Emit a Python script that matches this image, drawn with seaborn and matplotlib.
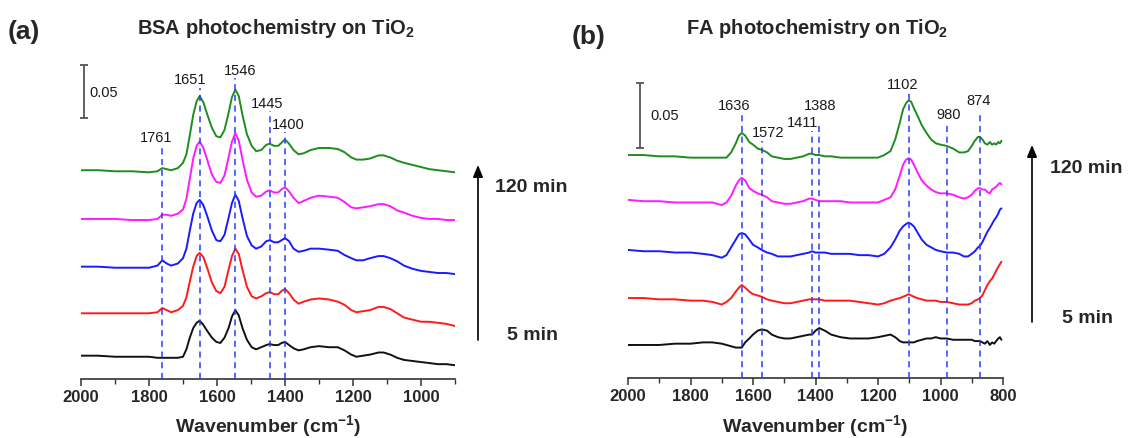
import numpy as np
import pandas as pd
import matplotlib
matplotlib.use("Agg")
import matplotlib.pyplot as plt
from matplotlib.ticker import MultipleLocator
import seaborn as sns

# ---------------- BSA on TiO2 (panel a) ----------------
wn_bsa = [2000, 1950, 1900, 1850, 1800, 1775, 1761, 1748, 1735, 1715,
          1700, 1690, 1680, 1670, 1660, 1651, 1640, 1628, 1615, 1602,
          1590, 1578, 1566, 1556, 1546, 1536, 1525, 1512, 1498, 1485,
          1470, 1455, 1445, 1432, 1420, 1410, 1400, 1388, 1375, 1360,
          1345, 1325, 1300, 1270, 1245, 1225, 1205, 1190, 1170, 1150,
          1125, 1110, 1090, 1070, 1050, 1025, 1000, 975, 950, 925, 900]

# absorbance change, mOD, relative to each trace's value at 2000 cm-1
bsa_scan1 = [0, 0, -1, -1, -1, -2, -2, -2, -2, -2,
             -1, 6, 17, 26, 31, 33, 29, 23, 17, 13,
             12, 17, 26, 37, 43, 38, 26, 15, 8, 6,
             8, 10, 11, 10, 10, 12, 13, 10, 7, 5,
             6, 8, 9, 8, 8, 5, 1, -1, 0, 1,
             3, 3, 1, -2, -4, -5, -6, -7, -8, -8, -9]
bsa_scan2 = [0, 0, 0, 0, 0, 1, 5, 3, 1, 3,
             7, 15, 30, 44, 54, 57, 53, 42, 29, 21,
             19, 25, 41, 54, 61, 56, 41, 25, 16, 14,
             16, 19, 20, 18, 18, 21, 23, 19, 13, 9,
             11, 13, 14, 13, 11, 8, 3, 1, 2, 3,
             6, 6, 4, 0, -4, -6, -8, -8, -9, -10, -12]
bsa_scan3 = [0, 0, -1, -1, -1, 1, 6, 3, 1, 3,
             8, 17, 34, 50, 60, 63, 58, 47, 34, 25,
             24, 30, 46, 60, 68, 62, 46, 29, 20, 17,
             19, 24, 25, 23, 23, 25, 27, 24, 17, 14,
             15, 17, 17, 16, 15, 11, 8, 6, 6, 8,
             10, 10, 8, 5, 1, -2, -4, -5, -6, -6, -7]
bsa_scan4 = [0, 0, 0, -1, -1, 0, 4, 4, 3, 5,
             9, 19, 38, 57, 69, 73, 67, 55, 42, 35,
             34, 41, 58, 73, 81, 74, 56, 37, 25, 21,
             22, 26, 27, 25, 25, 28, 30, 26, 20, 15,
             17, 20, 22, 21, 20, 16, 11, 10, 11, 12,
             14, 14, 12, 8, 6, 3, 1, 0, 0, -1, -1]
bsa_scan5 = [0, 0, -1, -1, -2, -1, 2, 1, 0, 2,
             7, 15, 33, 52, 65, 70, 64, 52, 40, 32,
             31, 38, 54, 69, 76, 70, 52, 34, 23, 18,
             19, 24, 25, 23, 23, 26, 29, 25, 19, 15,
             16, 19, 21, 21, 20, 17, 12, 10, 10, 11,
             14, 14, 12, 9, 7, 5, 3, 1, 0, -1, -2]

bsa_peaks = [1761, 1651, 1546, 1445, 1400]

# ---------------- FA on TiO2 (panel b) ----------------
wn_fa = [2000, 1950, 1900, 1850, 1800, 1760, 1730, 1700, 1685, 1670,
         1655, 1645, 1636, 1625, 1612, 1600, 1585, 1572, 1555, 1540,
         1520, 1500, 1480, 1460, 1440, 1420, 1411, 1400, 1388, 1370,
         1350, 1320, 1290, 1260, 1230, 1200, 1180, 1160, 1145, 1130,
         1120, 1110, 1102, 1094, 1085, 1075, 1060, 1045, 1030, 1015,
         1000, 980, 960, 940, 925, 912, 900, 890, 880, 874,
         866, 858, 850, 842, 835, 828, 822, 815, 810, 805]

fa_scan1 = [0, 0, 0, 1, 1, 2, 2, 1, 0, -1,
            -2, -2, -2, 2, 5, 8, 11, 12, 11, 8,
            6, 5, 5, 6, 7, 8, 8, 11, 13, 11,
            8, 6, 5, 5, 5, 6, 7, 8, 6, 3,
            2, 2, 2, 2, 2, 3, 4, 5, 5, 6,
            5, 5, 4, 4, 4, 4, 4, 3, 3, 3,
            2, 1, 3, 0, 2, 1, 3, 5, 6, 4]
fa_scan2 = [0, 0, -1, -1, -2, -2, -3, -5, -3, 0,
            5, 8, 10, 8, 5, 3, 2, 1, -1, -2,
            -3, -4, -4, -3, -2, -1, -1, -1, -1, -2,
            -2, -2, -2, -3, -4, -5, -4, -2, -1, 0,
            1, 2, 3, 2, 1, 0, -1, -2, -2, -2,
            -3, -3, -4, -5, -5, -5, -4, -2, -1, 0,
            2, 6, 10, 13, 15, 18, 21, 24, 26, 28]
fa_scan3 = [0, -1, -1, -2, -2, -3, -4, -6, -4, 2,
            8, 12, 13, 12, 8, 4, 2, 0, -2, -3,
            -5, -5, -5, -4, -3, -2, -1, -2, -2, -2,
            -3, -3, -3, -4, -4, -5, -3, 2, 8, 15,
            18, 20, 21, 20, 18, 14, 8, 4, 2, 0,
            -1, -2, -2, -3, -5, -5, -3, -1, 2, 3,
            6, 10, 14, 17, 20, 23, 25, 28, 31, 32]
fa_scan4 = [0, -1, -1, -2, -2, -2, -2, -4, -2, 3,
            11, 15, 17, 15, 9, 7, 5, 4, 2, -1,
            -2, -3, -3, -2, -1, 1, 1, 0, -1, -1,
            -1, -1, -2, -2, -2, -2, 0, 2, 8, 19,
            27, 31, 32, 31, 27, 22, 15, 11, 8, 6,
            5, 5, 4, 2, 1, 2, 4, 7, 9, 9,
            8, 8, 6, 5, 8, 9, 10, 12, 13, 12]
fa_scan5 = [0, 0, -1, -1, -2, -2, -2, -2, -2, 2,
            9, 15, 17, 15, 10, 8, 5, 4, 2, -1,
            -2, -3, -3, -2, -1, 1, 1, 0, 0, -1,
            -1, -2, -2, -2, -2, -2, 0, 3, 12, 25,
            35, 40, 42, 41, 36, 31, 23, 17, 12, 9,
            8, 7, 5, 2, 2, 3, 7, 11, 14, 14,
            12, 9, 8, 10, 8, 9, 8, 10, 9, 11]

fa_peaks = [1636, 1572, 1411, 1388, 1102, 980, 874]

scan_names = ["scan 1", "scan 2", "scan 3", "scan 4", "scan 5"]
scan_colors = ["#111111", "#ff1a1a", "#1a1aff", "#ff1aff", "#1e8c1e"]

# ---------------- layout / styling ----------------
bsa_offsets = [0.022, 0.062, 0.106, 0.151, 0.197]
fa_offsets = [0.0254, 0.0615, 0.0985, 0.137, 0.1715]
bsa_line_tops = [0.221, 0.275, 0.284, 0.253, 0.233]
bsa_label_pos = [(1779, 0.224), (1679, 0.278), (1532, 0.287), (1453, 0.256), (1390, 0.236)]
fa_line_tops = [0.203, 0.182, 0.190, 0.197, 0.219, 0.196, 0.204]
fa_label_pos = [(1661, 0.206), (1553, 0.185), (1442, 0.193), (1384, 0.206),
                (1122, 0.222), (975, 0.199), (878, 0.210)]

sns.set_theme(style="ticks")
plt.rcParams["font.family"] = ["Liberation Sans", "DejaVu Sans"]
plt.rcParams["mathtext.fontset"] = "custom"
plt.rcParams["mathtext.rm"] = "Liberation Sans"
plt.rcParams["mathtext.bf"] = "Liberation Sans:bold"
plt.rcParams["mathtext.default"] = "bf"

W, H = 1129, 438
fig = plt.figure(figsize=(W / 100, H / 100), dpi=100)
ax_a = fig.add_axes([81 / W, (H - 379) / H, 374 / W, 319 / H])
ax_b = fig.add_axes([628 / W, (H - 378) / H, 375 / W, 318 / H])


def stacked_frame(wn, spectra, offsets):
    parts = []
    for name, spec, off in zip(scan_names, spectra, offsets):
        parts.append(pd.DataFrame({
            "wavenumber": wn,
            "absorbance": np.asarray(spec, float) / 1000.0 + off,
            "scan": name,
        }))
    return pd.concat(parts, ignore_index=True)


def draw_panel(ax, wn, spectra, offsets, xlim, ylim, ticks, peaks, tops,
               label_pos, bar_x, bar_mid, text_x, text_y, xlabel_y):
    df = stacked_frame(wn, spectra, offsets)
    sns.lineplot(data=df, x="wavenumber", y="absorbance", hue="scan",
                 hue_order=scan_names, palette=dict(zip(scan_names, scan_colors)),
                 linewidth=1.4, legend=False, ax=ax, zorder=2)
    ax.vlines(peaks, 0, tops, colors="#2a3cff", linestyles=[(0, (4, 3))],
              linewidth=1.1, zorder=3)
    for p, (lx, ly) in zip(peaks, label_pos):
        ax.text(lx, ly, str(p), fontsize=10.5, ha="center", va="baseline", color="#1a1a1a")

    eb = ax.errorbar([bar_x], [bar_mid], yerr=[0.025], color="#555555",
                     elinewidth=1.3, capsize=3, capthick=1.3, zorder=4)
    for art in eb.lines[1] + eb.lines[2]:
        art.set_clip_on(False)
    ax.text(text_x, text_y, "0.05", fontsize=10.5, ha="left", va="baseline", color="#1a1a1a")

    ax.set_xlim(*xlim)
    ax.set_ylim(*ylim)
    ax.set_yticks([])
    ax.set_ylabel("")
    ax.set_xticks(ticks)
    ax.set_xticklabels([str(t) for t in ticks], fontsize=12, fontweight="bold")
    ax.xaxis.set_minor_locator(MultipleLocator(100))
    ax.tick_params(axis="x", which="major", length=5, width=1.1, direction="out",
                   pad=3, color="#333333")
    ax.tick_params(axis="x", which="minor", length=3.5, width=1.0, direction="out",
                   color="#333333")
    sns.despine(ax=ax, left=True)
    ax.spines["bottom"].set_color("#333333")
    ax.spines["bottom"].set_linewidth(1.2)
    ax.set_xlabel("Wavenumber (cm$^{-1}$)", fontsize=14, fontweight="bold")
    ax.xaxis.set_label_coords(0.5, xlabel_y)
    ax.xaxis.label.set_verticalalignment("baseline")


draw_panel(ax_a, wn_bsa, [bsa_scan1, bsa_scan2, bsa_scan3, bsa_scan4, bsa_scan5],
           bsa_offsets, (2000, 900), (0, 0.301), [2000, 1800, 1600, 1400, 1200, 1000],
           bsa_peaks, bsa_line_tops, bsa_label_pos, 1991, 0.271, 1974, 0.266, -0.166)
draw_panel(ax_b, wn_fa, [fa_scan1, fa_scan2, fa_scan3, fa_scan4, fa_scan5],
           fa_offsets, (2000, 800), (0, 0.2446), [2000, 1800, 1600, 1400, 1200, 1000, 800],
           fa_peaks, fa_line_tops, fa_label_pos, 1962, 0.202, 1927, 0.1985, -0.170)

# panel letters and titles
fig.text(8 / W, 1 - 39 / H, "(a)", fontsize=19, fontweight="bold", va="baseline")
fig.text(572 / W, 1 - 44 / H, "(b)", fontsize=19, fontweight="bold", va="baseline")
fig.text(276 / W, 1 - 34 / H, "BSA photochemistry on TiO$_2$", fontsize=14.5,
         fontweight="bold", ha="center", va="baseline")
fig.text(817 / W, 1 - 34 / H, "FA photochemistry on TiO$_2$", fontsize=14.5,
         fontweight="bold", ha="center", va="baseline")

# time arrows
for x, y0, y1 in [(478, 340, 165), (1032, 322, 145)]:
    ax_a.annotate("", xy=(x, H - y1), xytext=(x, H - y0), xycoords="figure pixels",
                  textcoords="figure pixels", annotation_clip=False,
                  arrowprops=dict(arrowstyle="-|>,head_length=0.6,head_width=0.25",
                                  color="black", lw=1.2, shrinkA=0, shrinkB=0))
for x, y, s in [(495, 192, "120 min"), (507, 340, "5 min"),
                (1050, 173, "120 min"), (1062, 323, "5 min")]:
    fig.text(x / W, 1 - y / H, s, fontsize=14, fontweight="bold", va="baseline")

fig.savefig("out.png", dpi=100)
